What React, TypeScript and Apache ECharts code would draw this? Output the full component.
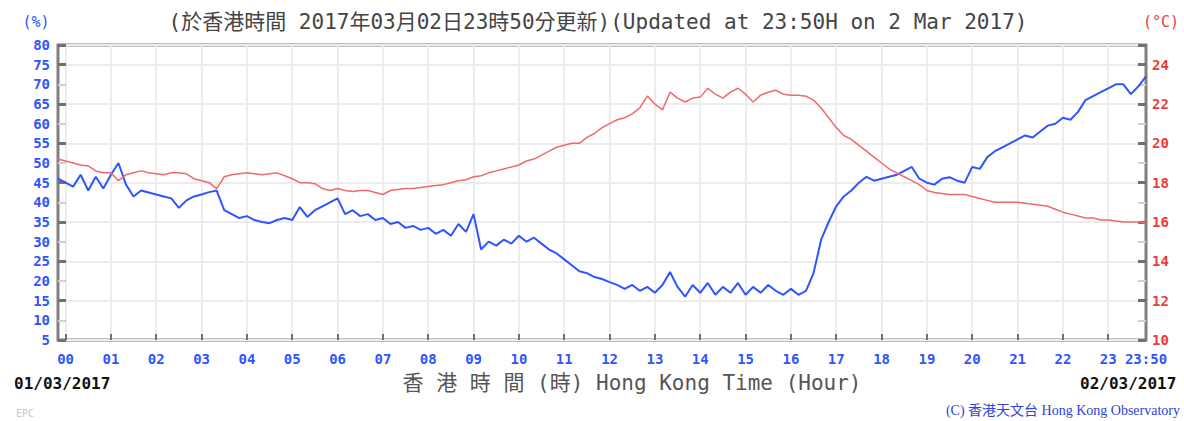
import React, { useEffect, useRef } from "react";
import * as echarts from "echarts";

// Relative humidity (%), every 10 minutes from 23:50 (1 Mar) to 23:50 (2 Mar)
const humidity: number[] = [
  46,
  45, 44, 47, 43, 46.5, 43.5,
  47, 50, 44.5, 41.5, 43, 42.5,
  42, 41.5, 41, 38.6, 40.5, 41.5,
  42, 42.6, 43, 38, 37, 36,
  36.5, 35.5, 35, 34.7, 35.5, 36,
  35.5, 38.8, 36.3, 38, 39, 40,
  41, 37, 38, 36.5, 37, 35.5,
  36, 34.5, 35, 33.5, 34, 33,
  33.5, 32, 33, 31.5, 34.5, 32.5,
  37, 28, 30, 29, 30.5, 29.5,
  31.5, 30, 31, 29.5, 28, 27,
  25.5, 24, 22.5, 22, 21, 20.5,
  19.7, 19, 18, 19, 17.5, 18.5,
  17, 19, 22.3, 18.5, 16, 19,
  17, 19.5, 16.5, 18.5, 17, 19.5,
  16.5, 18.5, 17, 19, 17.5, 16.5,
  18, 16.5, 17.5, 22, 30.5, 35,
  39, 41.5, 43, 45, 46.5, 45.5,
  46, 46.5, 47, 48, 49, 46,
  45, 44.5, 46, 46.4, 45.5, 45,
  49, 48.5, 51.5, 53, 54, 55,
  56, 57, 56.5, 58, 59.5, 60,
  61.5, 61, 63, 66, 67, 68,
  69, 70, 70, 67.5, 69.5, 72,
];

// Temperature (°C), same time steps
const temperature: number[] = [
  19.2,
  19.1, 19.0, 18.9, 18.85, 18.6, 18.5,
  18.5, 18.1, 18.4, 18.5, 18.6, 18.5,
  18.45, 18.4, 18.5, 18.5, 18.45, 18.2,
  18.1, 18.0, 17.7, 18.3, 18.4, 18.45,
  18.5, 18.45, 18.4, 18.45, 18.5, 18.35,
  18.2, 18.0, 18.0, 17.95, 17.7, 17.6,
  17.7, 17.6, 17.55, 17.6, 17.6, 17.5,
  17.4, 17.6, 17.65, 17.7, 17.7, 17.75,
  17.8, 17.85, 17.9, 18.0, 18.1, 18.15,
  18.3, 18.35, 18.5, 18.6, 18.7, 18.8,
  18.9, 19.1, 19.2, 19.4, 19.6, 19.8,
  19.9, 20.0, 20.0, 20.3, 20.5, 20.8,
  21.0, 21.2, 21.3, 21.5, 21.8, 22.4,
  22.0, 21.7, 22.6, 22.3, 22.1, 22.3,
  22.35, 22.8, 22.5, 22.3, 22.6, 22.8,
  22.5, 22.1, 22.45, 22.6, 22.7, 22.5,
  22.45, 22.45, 22.4, 22.2, 21.8, 21.3,
  20.8, 20.4, 20.2, 19.9, 19.6, 19.3,
  19.0, 18.7, 18.5, 18.3, 18.1, 17.9,
  17.6, 17.5, 17.45, 17.4, 17.4, 17.4,
  17.3, 17.2, 17.1, 17.0, 17.0, 17.0,
  17.0, 16.95, 16.9, 16.85, 16.8, 16.65,
  16.5, 16.4, 16.3, 16.2, 16.2, 16.1,
  16.1, 16.05, 16.0, 16.0, 16.0, 15.95,
];

// Axis ranges / tick steps
const humidityRange = [5, 80];
const humidityStep = 5;
const tempRange = [10, 25];
const tempStep = 2;
const lastLabel = "23:50";

// time labels (categories): 23:50, 00:00, 00:10 ... 23:50
const timeLabels: string[] = humidity.map((_, i) => {
  if (i === 0) return "23:50";
  const m = (i - 1) * 10;
  const hh = String(Math.floor(m / 60)).padStart(2, "0");
  const mm = String(m % 60).padStart(2, "0");
  return hh + ":" + mm;
});
const lastIndex = timeLabels.length - 1;
const isHour = (i: number) => i >= 1 && (i - 1) % 6 === 0;

const BLUE = "#2f55ff";
const RED = "#ee3a3a";
const MONO = '"DejaVu Sans Mono", "Noto Sans CJK TC", monospace';

export default function App() {
  const ref = useRef<HTMLDivElement>(null);

  useEffect(() => {
    if (!ref.current) return;
    const chart = echarts.init(ref.current, undefined, { renderer: "svg" });

    const tempAxis = (position: string, step: number, dark: boolean, labels: boolean) => ({
      type: "value",
      position,
      min: tempRange[0],
      max: tempRange[1],
      interval: step,
      axisLine: { show: false },
      axisTick: {
        show: true,
        inside: true,
        length: 8,
        lineStyle: { color: dark ? "#707070" : "#d0d0d0", width: dark ? 3 : 2 },
      },
      axisLabel: labels
        ? {
            show: true,
            color: RED,
            fontWeight: "bold",
            fontSize: 14,
            fontFamily: MONO,
            margin: 6,
            formatter: (v: number) => (v === tempRange[1] ? "" : String(v)),
          }
        : { show: false },
      splitLine: labels
        ? { show: true, lineStyle: { color: "#ececec", width: 2 } }
        : { show: false },
    });

    const option: any = {
      animation: false,
      backgroundColor: "#ffffff",
      grid: {
        left: 58,
        right: 38,
        top: 45,
        bottom: 81,
        show: true,
        borderColor: "#808080",
        borderWidth: 3,
        backgroundColor: "transparent",
      },
      xAxis: {
        type: "category",
        data: timeLabels,
        boundaryGap: false,
        axisLine: { show: false },
        axisTick: {
          show: true,
          inside: true,
          length: 6,
          interval: (i: number) => isHour(i),
          lineStyle: { color: "#707070", width: 2 },
        },
        axisLabel: {
          show: true,
          interval: (i: number) => isHour(i) || i === lastIndex,
          formatter: (v: string, i: number) => (i === lastIndex ? lastLabel : v.slice(0, 2)),
          color: BLUE,
          fontWeight: "bold",
          fontSize: 14,
          fontFamily: MONO,
          margin: 12,
        },
        splitLine: {
          show: true,
          interval: (i: number) => isHour(i),
          lineStyle: { color: "#ececec", width: 2 },
        },
      },
      yAxis: [
        {
          type: "value",
          position: "left",
          min: humidityRange[0],
          max: humidityRange[1],
          interval: humidityStep,
          axisLine: { show: false },
          axisTick: { show: false },
          splitLine: { show: false },
          axisLabel: {
            color: BLUE,
            fontWeight: "bold",
            fontSize: 14,
            fontFamily: MONO,
            margin: 8,
          },
        },
        tempAxis("right", 1, false, false),
        tempAxis("right", tempStep, true, true),
        tempAxis("left", 1, false, false),
        tempAxis("left", tempStep, true, false),
      ],
      series: [
        {
          name: "Relative Humidity",
          type: "line",
          data: humidity,
          yAxisIndex: 0,
          showSymbol: false,
          lineStyle: { color: BLUE, width: 2 },
          z: 3,
        },
        {
          name: "Temperature",
          type: "line",
          data: temperature,
          yAxisIndex: 2,
          showSymbol: false,
          lineStyle: { color: "#f06a6a", width: 1.5 },
          z: 4,
        },
      ],
      graphic: [
        {
          type: "text",
          x: 598,
          y: 22,
          style: {
            text: "(於香港時間 2017年03月02日23時50分更新)(Updated at 23:50H on 2 Mar 2017)",
            align: "center",
            verticalAlign: "middle",
            fill: "#444444",
            font: "21px " + MONO,
          },
        },
        {
          type: "text",
          x: 36,
          y: 22,
          style: { text: "(%)", align: "center", verticalAlign: "middle", fill: BLUE, font: "15px " + MONO },
        },
        {
          type: "text",
          x: 1161,
          y: 22,
          style: { text: "(°C)", align: "center", verticalAlign: "middle", fill: RED, font: "15px " + MONO },
        },
        {
          type: "text",
          x: 14,
          y: 383,
          style: { text: "01/03/2017", align: "left", verticalAlign: "middle", fill: "#111111", font: "bold 16px " + MONO },
        },
        {
          type: "text",
          x: 1080,
          y: 383,
          style: { text: "02/03/2017", align: "left", verticalAlign: "middle", fill: "#111111", font: "bold 16px " + MONO },
        },
        {
          type: "text",
          x: 632,
          y: 383,
          style: {
            text: "香 港 時 間 (時) Hong Kong Time (Hour)",
            align: "center",
            verticalAlign: "middle",
            fill: "#555555",
            font: "21px " + MONO,
          },
        },
        {
          type: "text",
          x: 1180,
          y: 410,
          style: {
            text: "(C) 香港天文台 Hong Kong Observatory",
            align: "right",
            verticalAlign: "middle",
            fill: "#2a44dd",
            font: '14px "Liberation Serif", "Noto Sans CJK TC", serif',
          },
        },
        {
          type: "text",
          x: 16,
          y: 413,
          style: { text: "EPC", align: "left", verticalAlign: "middle", fill: "#c8c8c8", font: "10px " + MONO },
        },
      ],
    };

    chart.setOption(option);
    return () => chart.dispose();
  }, []);

  return (
    <div
      ref={ref}
      style={{ position: "fixed", left: 0, top: 0, width: 1184, height: 421, background: "#fff" }}
    />
  );
}
